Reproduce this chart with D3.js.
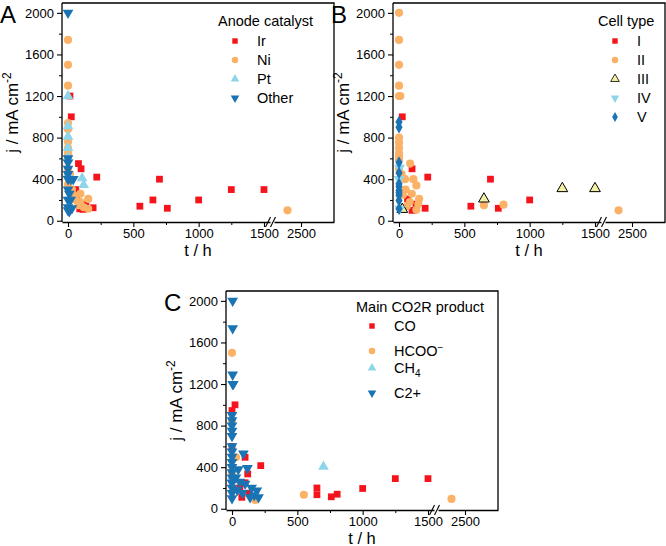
<!DOCTYPE html>
<html>
<head>
<meta charset="utf-8">
<script src="https://cdn.jsdelivr.net/npm/d3@7"></script>
<style>
  body { margin: 0; background: #fff; }
  svg { display: block; font-family: "Liberation Sans", Arial, sans-serif; }
</style>
</head>
<body>
<svg id="chart" width="666" height="546"></svg>
<script>
// ---- data: [t (h), j (mA cm-2)] ----
var anodeIr = [[15,1200],[25,1000],[0,600],[80,550],[100,500],[220,420],[60,300],[65,210],[90,115],[136,160],[192,125],[115,110],
  [550,140],[650,200],[700,400],[760,120],[1000,200],[1250,300],[1500,300]];
var anodeNi = [[0,1740],[0,1500],[0,1300],[0,940],[0,880],[0,760],[0,700],[0,650],[0,500],[15,450],[0,350],[30,300],[95,260],
  [155,210],[95,180],[155,115],[60,200],[80,150],[120,130],[40,250],[2200,100]];
var anodePt = [[0,1200],[0,910],[0,810],[0,700],[0,610],[0,450],[108,410],[120,345]];
var anodeOther = [[0,2000],[0,600],[0,560],[0,500],[0,450],[0,400],[20,400],[40,400],[0,300],[10,260],[0,200],[20,200],
  [0,130],[0,100],[30,120],[10,90]];

var cellI = [[25,1000],[0,600],[100,500],[220,420],[65,210],[100,100],[200,120],[130,160],[550,140],[700,400],[760,120],[1000,200]];
var cellII = [[0,2000],[0,1740],[0,1500],[0,1300],[0,1200],[10,1200],[0,800],[0,750],[0,700],[0,650],[0,600],[0,500],[85,550],
  [46,400],[110,400],[133,340],[51,300],[98,260],[154,210],[148,160],[82,180],[133,105],[20,450],[30,250],[60,140],
  [650,150],[800,155],[2200,100]];
var cellIII = [[25,110],[650,210],[1250,310],[1500,310]];
var cellIV = [[5,510],[5,115],[0,400]];
var cellV = [[0,950],[0,900],[0,560],[0,460],[0,355],[0,330],[0,290],[0,270],[0,245],[0,195],[0,115]];

var prodCO = [[23,1000],[0,945],[0,600],[100,495],[120,335],[220,415],[75,110],[60,200],[100,250],[130,150],
  [650,200],[650,135],[760,115],[805,140],[1000,195],[1250,290],[1500,290]];
var prodHCOO = [[0,1500],[0,850],[31,495],[177,85],[0,350],[550,135],[2200,95]];
var prodCH4 = [[700,405],[0,300]];
var prodC2 = [[5,2000],[5,1735],[5,1290],[5,1200],[10,1200],[0,900],[0,850],[0,800],[0,750],[0,700],[0,600],[0,550],[0,500],
  [0,450],[0,400],[0,350],[0,300],[0,250],[0,200],[0,150],[0,100],[87,530],[118,390],[190,175],[203,110],[138,110],[48,380],
  [30,300],[60,260],[100,240],[150,200],[170,130],[40,180],[80,150]];

var yTicks = [0, 400, 800, 1200, 1600, 2000];
var yMinor = [200, 600, 1000, 1400, 1800];
var xTicks1 = [0, 500, 1000, 1500];
var xMinor1 = [250, 750, 1250];
var xTicks2 = [2500];

var RED = '#f5141c', ORANGE = '#fbb266', LBLUE = '#8fd5ea', DBLUE = '#1a74b4', YEL = '#f3f0a6';

var svg = d3.select('#chart');
var fmt = d3.format('d');

function shape(type) {
  var s = { square: d3.symbolSquare, circle: d3.symbolCircle, up: d3.symbolTriangle, down: d3.symbolTriangle, diamond: d3.symbolDiamond }[type];
  var size = { square: 46, circle: 52, up: 50, down: 50, diamond: 44 }[type];
  return d3.symbol().type(s).size(size)();
}

function drawPanel(p) {
  var w = 272, h = 219;
  var g = svg.append('g').attr('transform', 'translate(' + p.left + ',' + p.top + ')');

  var y = d3.scaleLinear().domain([-12, 2095]).range([h, 0]);
  // broken x axis: two linear pieces
  var x1 = d3.scaleLinear().domain([-46, 1546]).range([0, 208]);
  var x2 = d3.scaleLinear().domain([1900, 3233]).range([212, w]);
  var x = function(t) { return t < 1750 ? x1(t) : x2(t); };

  // points
  p.series.forEach(function(s) {
    g.selectAll(null).data(s.data).enter().append('path')
      .attr('d', shape(s.shape))
      .attr('transform', function(d) {
        return 'translate(' + x(d[0]) + ',' + y(d[1]) + ')' + (s.shape === 'down' ? ' rotate(180)' : '');
      })
      .attr('fill', s.color)
      .attr('stroke', s.stroke || 'none')
      .attr('stroke-width', 1);
  });

  // frame
  g.append('path').attr('d', 'M0,0H' + w + 'V' + h)
    .attr('fill', 'none').attr('stroke', '#000').attr('stroke-width', 1.3);

  // y axis
  var ya = g.append('g').call(d3.axisLeft(y).tickValues(yTicks).tickFormat(fmt).tickSize(5).tickPadding(3).tickSizeOuter(0));
  g.append('g').call(d3.axisLeft(y).tickValues(yMinor).tickSize(3).tickFormat('').tickSizeOuter(0))
    .select('.domain').remove();
  ya.select('.domain').attr('d', 'M0,0V' + h).attr('stroke-width', 1.3);

  // x axis, two pieces
  var xa1 = g.append('g').attr('transform', 'translate(0,' + h + ')')
    .call(d3.axisBottom(x1).tickValues(xTicks1).tickFormat(fmt).tickSize(5).tickPadding(2).tickSizeOuter(0));
  g.append('g').attr('transform', 'translate(0,' + h + ')')
    .call(d3.axisBottom(x1).tickValues(xMinor1).tickSize(3).tickFormat('').tickSizeOuter(0))
    .select('.domain').remove();
  var xa2 = g.append('g').attr('transform', 'translate(0,' + h + ')')
    .call(d3.axisBottom(x2).tickValues(xTicks2).tickFormat(fmt).tickSize(5).tickPadding(2).tickSizeOuter(0));
  xa1.select('.domain').attr('stroke-width', 1.3);
  xa2.select('.domain').attr('stroke-width', 1.3);

  [ya, xa1, xa2].forEach(function(a) {
    a.selectAll('text').attr('font-size', 13).attr('fill', '#000')
      .attr('font-family', '"Liberation Sans", Arial, sans-serif');
    a.selectAll('line').attr('stroke-width', 1.1);
  });

  // break marks
  [206, 211].forEach(function(bx) {
    g.append('line').attr('x1', bx - 2.5).attr('y1', h + 5).attr('x2', bx + 2.5).attr('y2', h - 5)
      .attr('stroke', '#000').attr('stroke-width', 1.1);
  });

  // axis titles
  g.append('text').attr('x', w / 2).attr('y', h + 34).attr('text-anchor', 'middle')
    .attr('font-size', 16.5).text('t / h');
  var yl = g.append('text').attr('transform', 'translate(-44,' + (h / 2) + ') rotate(-90)')
    .attr('text-anchor', 'middle').attr('font-size', 17);
  yl.append('tspan').text('j / mA cm');
  yl.append('tspan').attr('dy', -7).attr('font-size', 12).text('-2');

  // panel letter
  svg.append('text').attr('x', p.left - 62).attr('y', p.top + 20)
    .attr('font-size', 24).text(p.letter);

  // legend
  var lg = g.append('g').attr('transform', 'translate(' + p.legend.x + ',' + p.legend.y + ')');
  lg.append('text').attr('x', p.legend.titleX).attr('y', 0).attr('font-size', 14.5).text(p.legend.title);
  p.series.forEach(function(s, i) {
    var ry = p.legend.rows[i];
    lg.append('path').attr('d', shape(s.shape))
      .attr('transform', 'translate(0,' + ry + ') scale(0.8)' + (s.shape === 'down' ? ' rotate(180)' : ''))
      .attr('fill', s.color).attr('stroke', s.stroke || 'none');
    var t = lg.append('text').attr('x', 22).attr('y', ry + 5).attr('font-size', 14.5);
    s.label.forEach(function(part) {
      var ts = t.append('tspan').text(part[0]);
      if (part[1] === 'sup') ts.attr('dy', -5).attr('font-size', 10);
      if (part[1] === 'sub') ts.attr('dy', 4).attr('font-size', 10);
    });
  });
}

drawPanel({
  letter: 'A', left: 62, top: 3,
  legend: { x: 173, y: 23, titleX: -17, title: 'Anode catalyst', rows: [15, 34, 53, 72] },
  series: [
    { data: anodeIr, shape: 'square', color: RED, label: [['Ir']] },
    { data: anodeNi, shape: 'circle', color: ORANGE, label: [['Ni']] },
    { data: anodePt, shape: 'up', color: LBLUE, label: [['Pt']] },
    { data: anodeOther, shape: 'down', color: DBLUE, label: [['Other']] }
  ]
});

drawPanel({
  letter: 'B', left: 393, top: 3,
  legend: { x: 222, y: 23, titleX: -17, title: 'Cell type', rows: [15, 34, 53, 72, 91] },
  series: [
    { data: cellI, shape: 'square', color: RED, label: [['I']] },
    { data: cellII, shape: 'circle', color: ORANGE, label: [['II']] },
    { data: cellIII, shape: 'up', color: YEL, stroke: '#000', label: [['III']] },
    { data: cellIV, shape: 'down', color: LBLUE, label: [['IV']] },
    { data: cellV, shape: 'diamond', color: DBLUE, label: [['V']] }
  ]
});

drawPanel({
  letter: 'C', left: 226, top: 291,
  legend: { x: 146, y: 21, titleX: -16, title: 'Main CO2R product', rows: [14, 39, 56, 81] },
  series: [
    { data: prodCO, shape: 'square', color: RED, label: [['CO']] },
    { data: prodHCOO, shape: 'circle', color: ORANGE, label: [['HCOO'], ['\u2212', 'sup']] },
    { data: prodCH4, shape: 'up', color: LBLUE, label: [['CH'], ['4', 'sub']] },
    { data: prodC2, shape: 'down', color: DBLUE, label: [['C2+']] }
  ]
});
</script>
</body>
</html>
